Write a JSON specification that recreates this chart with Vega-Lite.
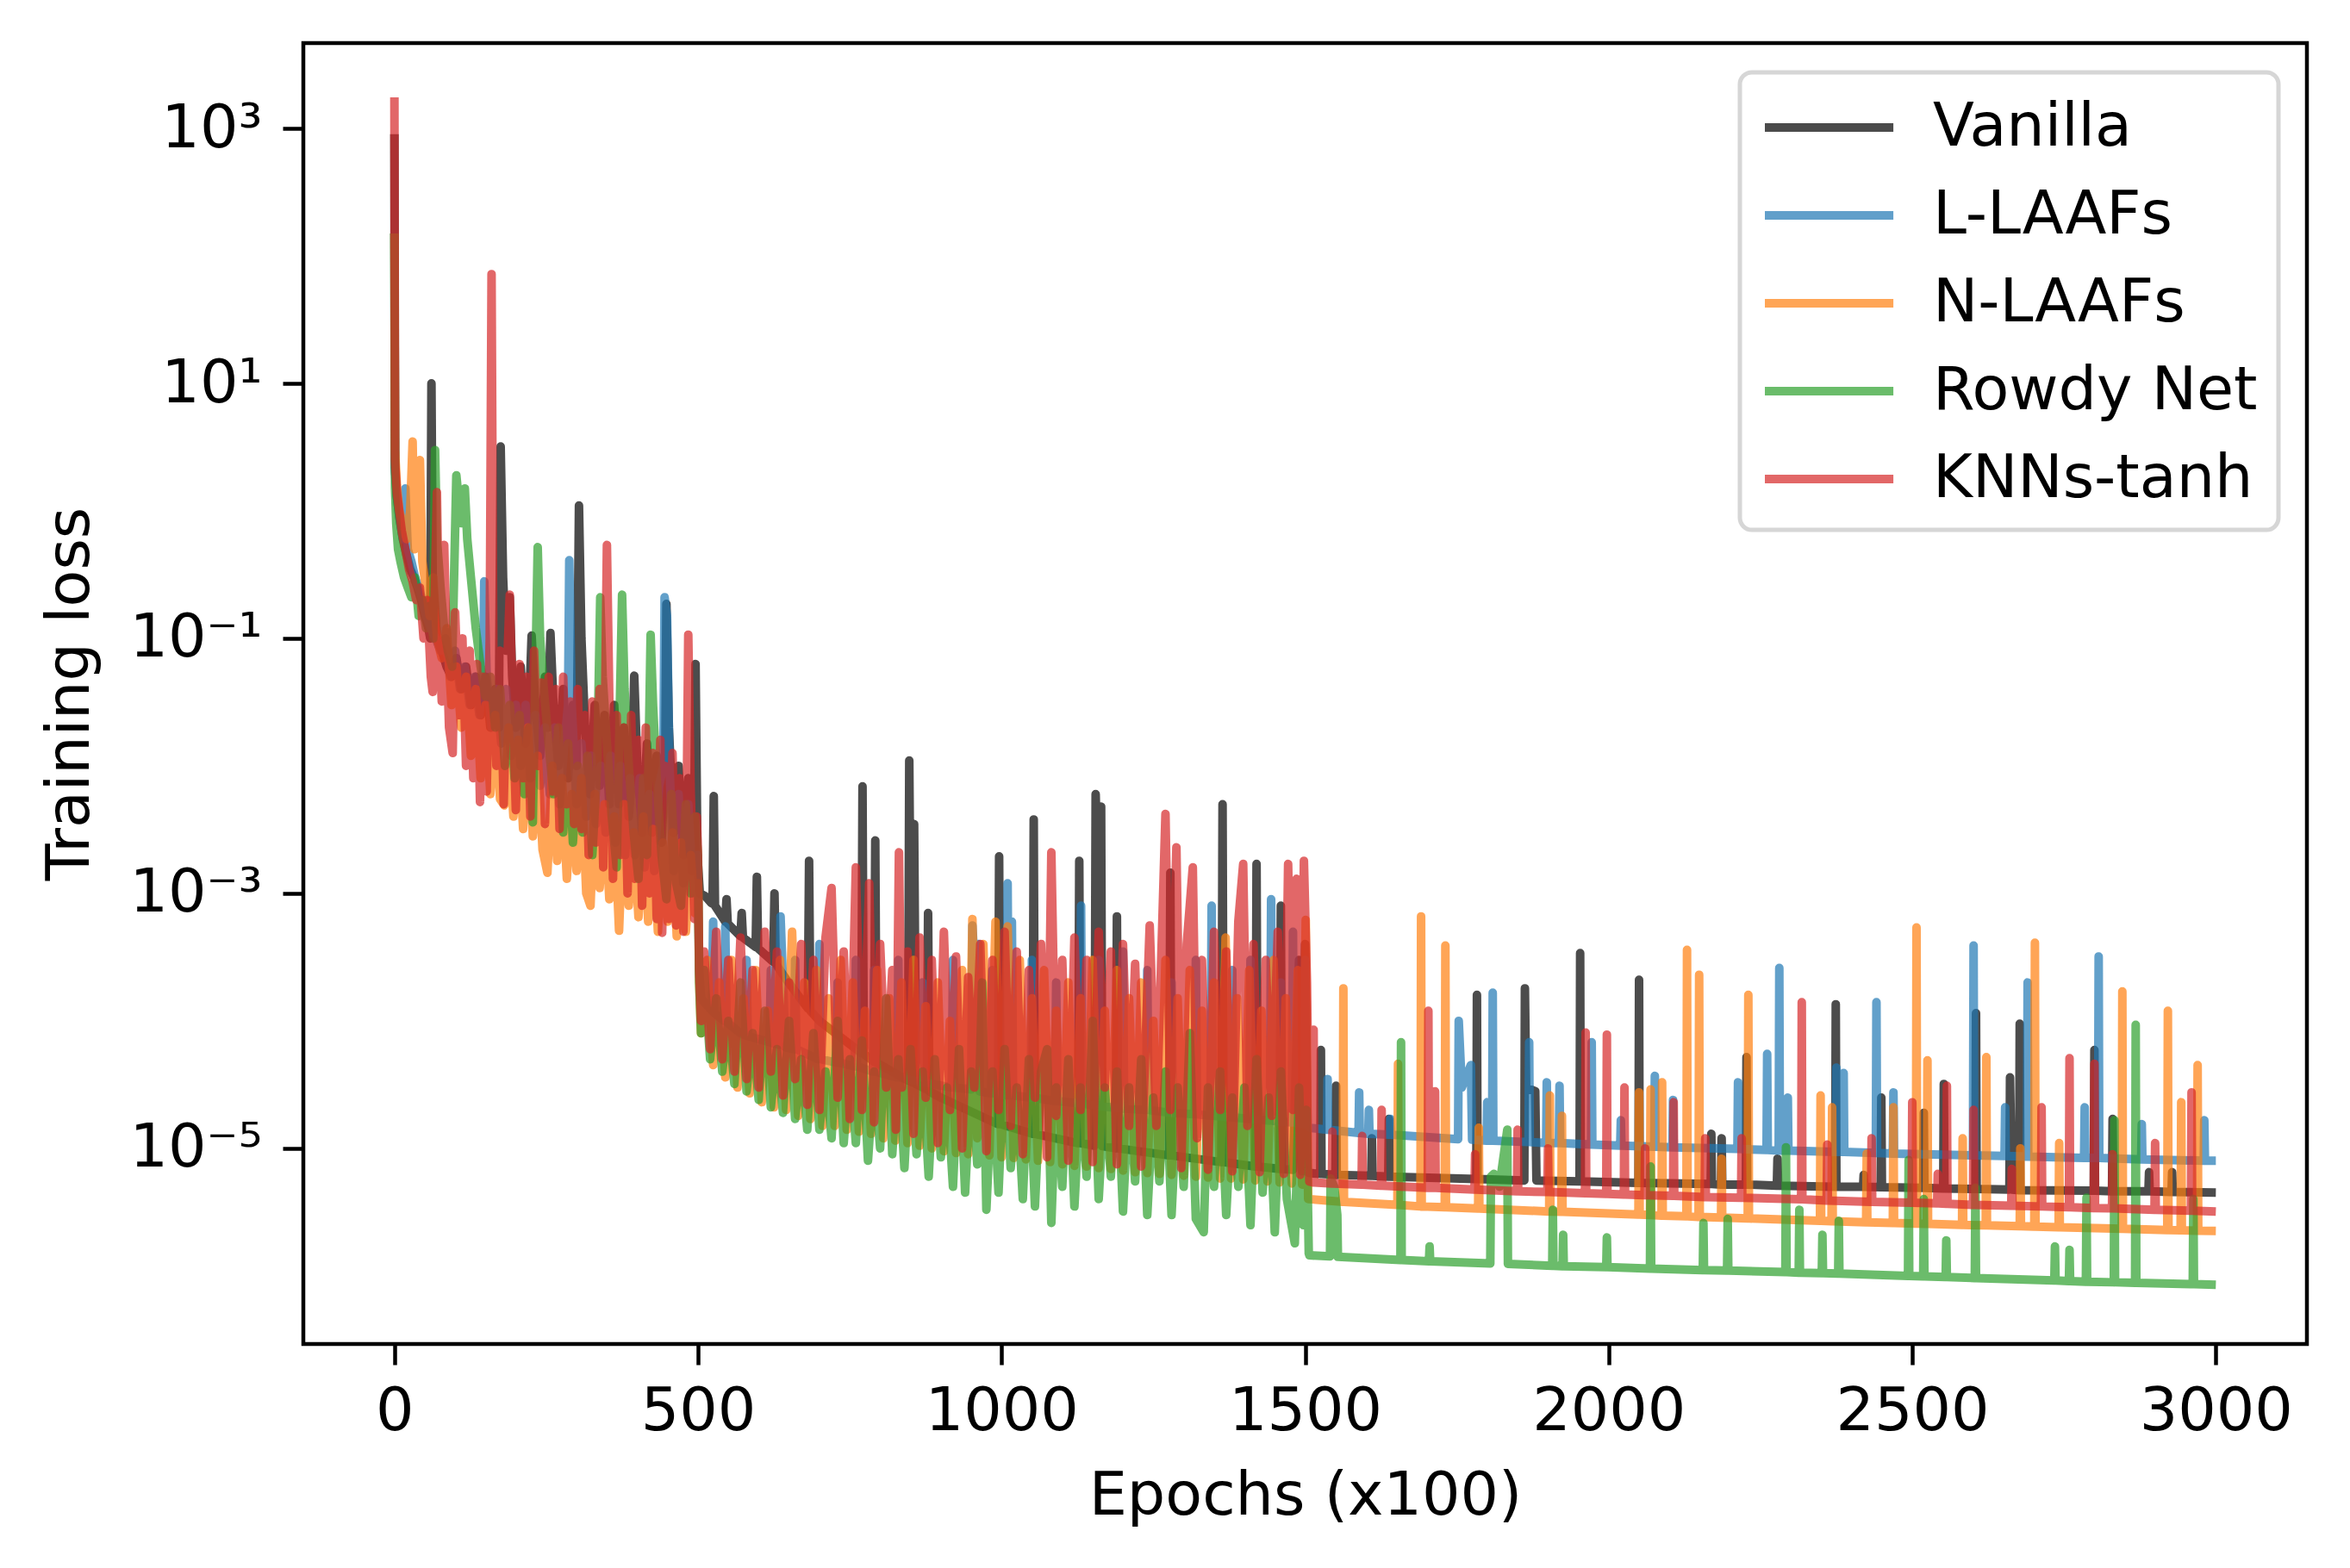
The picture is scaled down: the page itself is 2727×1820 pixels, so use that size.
{
"$schema":"https://vega.github.io/schema/vega-lite/v6.json",
"width":2325,"height":1510,
"autosize":"none",
"padding":{"left":352,"top":50,"right":50,"bottom":260},
"background":"white",
"config":{"view":{"stroke":"black","strokeWidth":4.5},"font":"DejaVu Sans","legend":{"strokeWidth":5,"strokeColor":"#d6d6d6","cornerRadius":14,"fillColor":"white","padding":24}},
"datasets":{
"V":[{"x":0,"y":900},{"x":1,"y":2.2},{"x":4,"y":1.3},{"x":8,"y":0.9},{"x":14,"y":0.6},{"x":20,"y":0.45},{"x":26,"y":0.35},{"x":32,"y":0.3},{"x":38,"y":0.25},{"x":44,"y":0.2},{"x":50,"y":0.15},{"x":56,"y":0.12},{"x":59,"y":0.1},{"x":61,"y":10},{"x":63,"y":0.3},{"x":70,"y":0.1},{"x":78,"y":0.08},{"x":86,"y":0.06},{"x":94,"y":0.05},{"x":102,"y":0.07},{"x":110,"y":0.04},{"x":118,"y":0.06},{"x":126,"y":0.03},{"x":134,"y":0.05},{"x":142,"y":0.025},{"x":150,"y":0.05},{"x":158,"y":0.02},{"x":166,"y":0.04},{"x":172,"y":0.02},{"x":175,"y":3.2},{"x":179,"y":0.3},{"x":184,"y":0.08},{"x":190,"y":0.21},{"x":194,"y":0.05},{"x":200,"y":0.02},{"x":208,"y":0.06},{"x":216,"y":0.015},{"x":222,"y":0.03},{"x":226,"y":0.105},{"x":232,"y":0.03},{"x":240,"y":0.012},{"x":248,"y":0.05},{"x":253,"y":0.02},{"x":257,"y":0.11},{"x":262,"y":0.03},{"x":270,"y":0.01},{"x":278,"y":0.04},{"x":286,"y":0.008},{"x":294,"y":0.03},{"x":300,"y":0.01},{"x":304,"y":1.1},{"x":308,"y":0.1},{"x":314,"y":0.02},{"x":322,"y":0.006},{"x":330,"y":0.03},{"x":338,"y":0.007},{"x":346,"y":0.025},{"x":354,"y":0.005},{"x":362,"y":0.03},{"x":370,"y":0.005},{"x":378,"y":0.02},{"x":386,"y":0.004},{"x":392,"y":0.01},{"x":395,"y":0.051},{"x":400,"y":0.01},{"x":408,"y":0.003},{"x":416,"y":0.015},{"x":424,"y":0.003},{"x":432,"y":0.012},{"x":440,"y":0.0025},{"x":446,"y":0.01},{"x":448,"y":0.186},{"x":452,"y":0.02},{"x":460,"y":0.003},{"x":468,"y":0.01},{"x":476,"y":0.002},{"x":484,"y":0.008},{"x":490,"y":0.0015},{"x":494,"y":0.005},{"x":496,"y":0.063},{"x":499,"y":0.002},
{"x":503,"y":1e-3},{"x":512,"y":9.5e-4},{"x":522,"y":8.4e-4},{"x":524,"y":8.3e-4},{"x":526,"y":5.8e-3},{"x":528,"y":8e-4},{"x":545,"y":6e-4},{"x":547,"y":9e-4},{"x":549,"y":5.8e-4},{"x":570,"y":4.6e-4},{"x":572,"y":7e-4},{"x":574,"y":4.5e-4},{"x":595,"y":3.8e-4},{"x":597,"y":1.35e-3},{"x":599,"y":3.7e-4},{"x":624,"y":2.9e-4},{"x":626,"y":1e-3},{"x":628,"y":2.8e-4},{"x":649,"y":2e-4},{"x":681,"y":1.25e-4},{"x":683,"y":1.8e-3},{"x":685,"y":1.2e-4},{"x":700,"y":1e-4},{"x":769,"y":5.6e-5},{"x":771,"y":6.9e-3},{"x":773,"y":5.5e-5},{"x":790,"y":4.8e-5},{"x":792,"y":2.6e-3},{"x":794,"y":4.7e-5},{"x":846,"y":3.4e-5},{"x":848,"y":1.1e-2},{"x":852,"y":3.3e-5},{"x":856,"y":3.5e-3},{"x":859,"y":3.2e-5},{"x":877,"y":2.9e-5},{"x":879,"y":7e-4},{"x":881,"y":2.8e-5},{"x":900,"y":2.5e-5},{"x":994,"y":1.55e-5},{"x":996,"y":1.95e-3},{"x":998,"y":1.55e-5},{"x":1051,"y":1.3e-5},{"x":1053,"y":3.8e-3},{"x":1055,"y":1.3e-5},{"x":1126,"y":1.1e-5},{"x":1128,"y":1.8e-3},{"x":1130,"y":1.1e-5},{"x":1153,"y":1.05e-5},{"x":1155,"y":6e-3},{"x":1159,"y":1e-3},{"x":1164,"y":4.8e-3},{"x":1166,"y":1.04e-5},{"x":1188,"y":1e-5},{"x":1190,"y":6.6e-4},{"x":1192,"y":1e-5},{"x":1276,"y":8.8e-6},{"x":1278,"y":1.45e-3},{"x":1280,"y":8.8e-6},{"x":1362,"y":7.8e-6},{"x":1364,"y":5e-3},{"x":1366,"y":7.8e-6},{"x":1418,"y":7.2e-6},{"x":1420,"y":1.7e-3},{"x":1422,"y":7.2e-6},{"x":1458,"y":6.9e-6},{"x":1460,"y":8e-4},{"x":1462,"y":6.9e-6},{"x":1480,"y":6.8e-6},{"x":1490,"y":3e-4},{"x":1495,"y":6.6e-6},{"x":1500,"y":4e-4},{"x":1504,"y":6.5e-6},
{"x":1507,"y":6.4e-6},{"x":1525,"y":6.3e-6},{"x":1526,"y":5.9e-5},{"x":1527,"y":6.3e-6},{"x":1550,"y":6.2e-6},{"x":1551,"y":3.1e-5},{"x":1552,"y":6.2e-6},{"x":1609,"y":6.1e-6},{"x":1610,"y":1.2e-5},{"x":1611,"y":6.1e-6},{"x":1637,"y":6e-6},{"x":1638,"y":1.7e-5},{"x":1639,"y":6e-6},{"x":1782,"y":5.75e-6},{"x":1783,"y":1.6e-4},{"x":1784,"y":5.75e-6},{"x":1861,"y":5.6e-6},{"x":1862,"y":1.8e-4},{"x":1864,"y":3e-5},{"x":1879,"y":2.8e-5},{"x":1881,"y":5.6e-6},{"x":1952,"y":5.5e-6},{"x":1953,"y":3.4e-4},{"x":1954,"y":5.5e-6},{"x":2049,"y":5.35e-6},{"x":2050,"y":2.1e-4},{"x":2051,"y":5.35e-6},{"x":2168,"y":5.25e-6},{"x":2169,"y":1.3e-5},{"x":2170,"y":5.25e-6},{"x":2185,"y":5.2e-6},{"x":2186,"y":1.2e-5},{"x":2187,"y":5.2e-6},{"x":2226,"y":5.2e-6},{"x":2227,"y":5.2e-5},{"x":2228,"y":5.2e-6},{"x":2277,"y":5.1e-6},{"x":2278,"y":8.3e-6},{"x":2279,"y":5.1e-6},{"x":2373,"y":5e-6},{"x":2374,"y":1.35e-4},{"x":2375,"y":5e-6},{"x":2419,"y":5e-6},{"x":2420,"y":6.2e-6},{"x":2421,"y":5e-6},{"x":2448,"y":4.95e-6},{"x":2449,"y":2.5e-5},{"x":2450,"y":4.95e-6},{"x":2518,"y":4.9e-6},{"x":2519,"y":1.9e-5},{"x":2520,"y":4.9e-6},{"x":2551,"y":4.85e-6},{"x":2552,"y":3.2e-5},{"x":2553,"y":4.85e-6},{"x":2604,"y":4.8e-6},{"x":2605,"y":1.15e-4},{"x":2606,"y":4.8e-6},{"x":2660,"y":4.75e-6},{"x":2661,"y":3.6e-5},{"x":2664,"y":4.75e-6},{"x":2676,"y":4.7e-6},{"x":2677,"y":9.5e-5},{"x":2678,"y":4.7e-6},{"x":2799,"y":4.65e-6},{"x":2800,"y":5.9e-5},{"x":2801,"y":4.65e-6},{"x":2829,"y":4.6e-6},{"x":2830,"y":1.7e-5},{"x":2831,"y":4.6e-6},{"x":2889,"y":4.6e-6},{"x":2890,"y":6.5e-6},{"x":2891,"y":4.6e-6},{"x":2927,"y":4.55e-6},{"x":2928,"y":6.5e-6},{"x":2929,"y":4.55e-6},{"x":3000,"y":4.5e-6}],
"L":[{"x":0,"y":150},{"x":1,"y":2.0},{"x":4,"y":1.3},{"x":8,"y":0.9},{"x":14,"y":0.6},{"x":18,"y":1.5},{"x":22,"y":0.5},{"x":28,"y":0.4},{"x":34,"y":0.3},{"x":40,"y":0.25},{"x":46,"y":0.2},{"x":52,"y":0.15},{"x":60,"y":0.12},{"x":68,"y":0.1},{"x":76,"y":0.08},{"x":84,"y":0.1},{"x":92,"y":0.05},{"x":100,"y":0.08},{"x":108,"y":0.04},{"x":116,"y":0.06},{"x":124,"y":0.03},{"x":132,"y":0.05},{"x":140,"y":0.025},{"x":146,"y":0.05},{"x":148,"y":0.28},{"x":152,"y":0.05},{"x":160,"y":0.02},{"x":168,"y":0.04},{"x":176,"y":0.015},{"x":184,"y":0.04},{"x":192,"y":0.012},{"x":200,"y":0.03},{"x":208,"y":0.01},{"x":216,"y":0.03},{"x":224,"y":0.008},{"x":232,"y":0.025},{"x":240,"y":0.007},{"x":248,"y":0.02},{"x":256,"y":0.006},{"x":264,"y":0.02},{"x":272,"y":0.005},{"x":280,"y":0.015},{"x":286,"y":0.03},{"x":288,"y":0.41},{"x":292,"y":0.03},{"x":300,"y":0.005},{"x":308,"y":0.015},{"x":316,"y":0.004},{"x":324,"y":0.012},{"x":332,"y":0.0035},{"x":340,"y":0.01},{"x":348,"y":0.003},{"x":356,"y":0.012},{"x":364,"y":0.0025},{"x":372,"y":0.01},{"x":380,"y":0.002},{"x":388,"y":0.008},{"x":396,"y":0.002},{"x":404,"y":0.008},{"x":412,"y":0.0016},{"x":420,"y":0.006},{"x":428,"y":0.0015},{"x":436,"y":0.007},{"x":443,"y":0.01},{"x":445,"y":0.21},{"x":449,"y":0.15},{"x":453,"y":0.01},{"x":460,"y":0.0015},{"x":468,"y":0.006},{"x":476,"y":0.0012},{"x":484,"y":0.005},{"x":492,"y":0.001},{"x":499,"y":0.002},
{"x":502,"y":2.5e-4},{"x":505,"y":1.5e-4},{"x":523,"y":1.2e-4},{"x":525,"y":6e-4},{"x":527,"y":1.15e-4},{"x":543,"y":1e-4},{"x":545,"y":5.5e-4},{"x":547,"y":9.8e-5},{"x":570,"y":8e-5},{"x":578,"y":7.7e-5},{"x":580,"y":3e-4},{"x":582,"y":7.6e-5},{"x":618,"y":6.8e-5},{"x":620,"y":2.5e-4},{"x":622,"y":6.7e-5},{"x":634,"y":6.5e-5},{"x":636,"y":6.6e-4},{"x":640,"y":2e-4},{"x":644,"y":6.2e-5},{"x":658,"y":6e-5},{"x":660,"y":3e-4},{"x":662,"y":6e-5},{"x":698,"y":5e-5},{"x":700,"y":4e-4},{"x":702,"y":5e-5},{"x":728,"y":4.7e-5},{"x":730,"y":2e-4},{"x":732,"y":4.7e-5},{"x":758,"y":4.4e-5},{"x":760,"y":3e-4},{"x":762,"y":4.4e-5},{"x":788,"y":4e-5},{"x":790,"y":2.5e-4},{"x":792,"y":4e-5},{"x":828,"y":3.6e-5},{"x":830,"y":3e-4},{"x":832,"y":3.6e-5},{"x":868,"y":3.3e-5},{"x":870,"y":2e-4},{"x":872,"y":3.3e-5},{"x":918,"y":3e-5},{"x":920,"y":3e-4},{"x":922,"y":3e-5},{"x":950,"y":2.9e-5},{"x":952,"y":5.6e-4},{"x":957,"y":2e-4},{"x":962,"y":4e-4},{"x":964,"y":2.8e-5},{"x":983,"y":2.7e-5},{"x":985,"y":2.5e-4},{"x":987,"y":2.7e-5},{"x":1008,"y":2.6e-5},{"x":1010,"y":1.2e-3},{"x":1012,"y":2.6e-5},{"x":1015,"y":2.6e-5},{"x":1017,"y":6e-4},{"x":1019,"y":2.6e-5},{"x":1048,"y":2.5e-5},{"x":1050,"y":3e-4},{"x":1052,"y":2.5e-5},{"x":1088,"y":2.35e-5},{"x":1090,"y":2e-4},{"x":1092,"y":2.35e-5},{"x":1129,"y":2.25e-5},{"x":1131,"y":8e-4},{"x":1133,"y":2.25e-5},{"x":1158,"y":2.15e-5},{"x":1160,"y":3e-4},{"x":1162,"y":2.15e-5},{"x":1198,"y":2.05e-5},{"x":1200,"y":3.5e-4},{"x":1202,"y":2.05e-5},{"x":1238,"y":2e-5},{"x":1240,"y":2.5e-4},{"x":1242,"y":2e-5},{"x":1278,"y":1.9e-5},{"x":1280,"y":2e-4},{"x":1282,"y":1.9e-5},{"x":1318,"y":1.85e-5},{"x":1320,"y":3e-4},{"x":1322,"y":1.85e-5},{"x":1344,"y":1.8e-5},{"x":1346,"y":8e-4},{"x":1348,"y":1.8e-5},{"x":1378,"y":1.75e-5},{"x":1380,"y":2.5e-4},{"x":1382,"y":1.75e-5},{"x":1408,"y":1.7e-5},{"x":1410,"y":3e-4},{"x":1412,"y":1.7e-5},{"x":1442,"y":1.65e-5},{"x":1444,"y":9e-4},{"x":1446,"y":1.65e-5},{"x":1458,"y":1.62e-5},{"x":1460,"y":2e-4},{"x":1462,"y":1.62e-5},{"x":1478,"y":1.6e-5},{"x":1480,"y":5e-4},{"x":1482,"y":1.6e-5},{"x":1498,"y":1.55e-5},{"x":1500,"y":3e-4},{"x":1504,"y":1.5e-5},
{"x":1507,"y":1.45e-5},{"x":1536,"y":1.4e-5},{"x":1537,"y":3.5e-5},{"x":1538,"y":1.4e-5},{"x":1588,"y":1.32e-5},{"x":1589,"y":2.75e-5},{"x":1590,"y":1.32e-5},{"x":1604,"y":1.3e-5},{"x":1605,"y":2e-5},{"x":1606,"y":1.3e-5},{"x":1639,"y":1.28e-5},{"x":1640,"y":1.7e-5},{"x":1641,"y":1.28e-5},{"x":1752,"y":1.18e-5},{"x":1753,"y":1e-4},{"x":1758,"y":3e-5},{"x":1773,"y":4.5e-5},{"x":1775,"y":1.17e-5},{"x":1799,"y":1.15e-5},{"x":1800,"y":2.3e-5},{"x":1801,"y":1.15e-5},{"x":1808,"y":1.15e-5},{"x":1809,"y":1.66e-4},{"x":1810,"y":1.15e-5},{"x":1868,"y":1.12e-5},{"x":1869,"y":6.8e-5},{"x":1870,"y":1.12e-5},{"x":1897,"y":1.1e-5},{"x":1898,"y":3.3e-5},{"x":1899,"y":1.1e-5},{"x":1918,"y":1.1e-5},{"x":1919,"y":3.1e-5},{"x":1920,"y":1.1e-5},{"x":1971,"y":1.07e-5},{"x":1972,"y":6.8e-5},{"x":1973,"y":1.07e-5},{"x":2019,"y":1.05e-5},{"x":2020,"y":1.66e-5},{"x":2021,"y":1.05e-5},{"x":2075,"y":1.03e-5},{"x":2076,"y":3.7e-5},{"x":2077,"y":1.03e-5},{"x":2105,"y":1.02e-5},{"x":2106,"y":2.4e-5},{"x":2107,"y":1.02e-5},{"x":2212,"y":9.9e-6},{"x":2213,"y":3.3e-5},{"x":2214,"y":9.9e-6},{"x":2260,"y":9.7e-6},{"x":2261,"y":5.5e-5},{"x":2262,"y":9.7e-6},{"x":2280,"y":9.6e-6},{"x":2281,"y":2.6e-4},{"x":2282,"y":9.6e-6},{"x":2294,"y":9.6e-6},{"x":2295,"y":2.5e-5},{"x":2296,"y":9.6e-6},{"x":2374,"y":9.4e-6},{"x":2375,"y":4.3e-5},{"x":2376,"y":9.4e-6},{"x":2386,"y":9.4e-6},{"x":2387,"y":3.9e-5},{"x":2388,"y":9.4e-6},{"x":2440,"y":9.2e-6},{"x":2441,"y":1.4e-4},{"x":2442,"y":9.2e-6},{"x":2468,"y":9.1e-6},{"x":2469,"y":2.75e-5},{"x":2470,"y":9.1e-6},{"x":2600,"y":8.8e-6},{"x":2601,"y":3.9e-4},{"x":2602,"y":8.8e-6},{"x":2652,"y":8.7e-6},{"x":2653,"y":2.1e-5},{"x":2654,"y":8.7e-6},{"x":2689,"y":8.6e-6},{"x":2690,"y":2e-4},{"x":2691,"y":8.6e-6},{"x":2783,"y":8.4e-6},{"x":2784,"y":2.1e-5},{"x":2785,"y":8.4e-6},{"x":2806,"y":8.4e-6},{"x":2807,"y":3.2e-4},{"x":2808,"y":8.4e-6},{"x":2877,"y":8.2e-6},{"x":2878,"y":1.55e-5},{"x":2879,"y":8.2e-6},{"x":2980,"y":8e-6},{"x":2981,"y":1.66e-5},{"x":2982,"y":8e-6},{"x":3000,"y":8e-6}],
"N":[{"x":0,"y":150},{"x":1,"y":3},{"x":4,"y":1.6},{"x":8,"y":1.0},{"x":14,"y":0.8},{"x":20,"y":0.6},{"x":26,"y":1.0},{"x":30,"y":3.5},{"x":33,"y":0.5},{"x":38,"y":0.6},{"x":42,"y":2.5},{"x":46,"y":0.4},{"x":52,"y":0.25},{"x":58,"y":0.15},{"x":64,"y":0.3},{"x":70,"y":0.1},{"x":78,"y":0.07},{"x":86,"y":0.12},{"x":94,"y":0.03},{"x":102,"y":0.06},{"x":110,"y":0.02},{"x":118,"y":0.05},{"x":126,"y":0.012},{"x":134,"y":0.04},{"x":142,"y":0.008},{"x":150,"y":0.03},{"x":158,"y":0.006},{"x":166,"y":0.025},{"x":174,"y":0.0055},{"x":181,"y":0.0049},{"x":188,"y":0.02},{"x":196,"y":0.004},{"x":204,"y":0.016},{"x":212,"y":0.0032},{"x":220,"y":0.02},{"x":228,"y":0.0028},{"x":236,"y":0.012},{"x":244,"y":0.0022},{"x":252,"y":0.00145},{"x":260,"y":0.01},{"x":268,"y":0.0018},{"x":276,"y":0.008},{"x":284,"y":0.0013},{"x":292,"y":0.006},{"x":300,"y":0.0015},{"x":308,"y":0.008},{"x":316,"y":0.001},{"x":323,"y":0.0008},{"x":330,"y":0.006},{"x":338,"y":0.0011},{"x":346,"y":0.005},{"x":354,"y":0.0009},{"x":362,"y":0.004},{"x":370,"y":0.00051},{"x":378,"y":0.005},{"x":386,"y":0.0008},{"x":394,"y":0.003},{"x":402,"y":0.00065},{"x":410,"y":0.004},{"x":418,"y":0.0006},{"x":426,"y":0.0032},{"x":434,"y":0.0005},{"x":442,"y":0.0025},{"x":450,"y":0.0006},{"x":458,"y":0.003},{"x":465,"y":0.00046},{"x":472,"y":0.0025},{"x":480,"y":0.0005},{"x":488,"y":0.002},{"x":495,"y":0.0007},{"x":500,"y":0.0012},
{"x":502,"y":2e-4},{"x":505,"y":8e-5},{"x":515,"y":3e-4},{"x":525,"y":4.5e-5},{"x":535,"y":2e-4},{"x":545,"y":3.6e-5},{"x":555,"y":3e-4},{"x":565,"y":3e-5},{"x":575,"y":1.5e-4},{"x":585,"y":2.7e-5},{"x":595,"y":2.5e-4},{"x":605,"y":2.3e-5},{"x":615,"y":1.2e-4},{"x":625,"y":2.1e-5},{"x":635,"y":3e-4},{"x":645,"y":2e-5},{"x":655,"y":5e-4},{"x":665,"y":1.8e-5},{"x":675,"y":2e-4},{"x":685,"y":1.7e-5},{"x":695,"y":2.5e-4},{"x":705,"y":1.5e-5},{"x":715,"y":1.5e-4},{"x":725,"y":1.5e-5},{"x":735,"y":3e-4},{"x":745,"y":1.4e-5},{"x":755,"y":2e-4},{"x":765,"y":1.35e-5},{"x":775,"y":1.2e-4},{"x":785,"y":1.3e-5},{"x":795,"y":2.5e-4},{"x":805,"y":1.2e-5},{"x":815,"y":1.5e-4},{"x":825,"y":1.15e-5},{"x":835,"y":2e-4},{"x":845,"y":1.1e-5},{"x":855,"y":3e-4},{"x":865,"y":1.05e-5},{"x":875,"y":1.3e-4},{"x":885,"y":1e-5},{"x":895,"y":2e-4},{"x":905,"y":9.5e-6},{"x":915,"y":1e-4},{"x":925,"y":9.2e-6},{"x":935,"y":2.5e-4},{"x":945,"y":9e-6},{"x":952,"y":6.3e-4},{"x":960,"y":1.2e-5},{"x":970,"y":4e-4},{"x":980,"y":8.8e-6},{"x":990,"y":6e-4},{"x":1000,"y":8.5e-6},{"x":1010,"y":5.5e-4},{"x":1020,"y":8.4e-6},{"x":1030,"y":3e-4},{"x":1040,"y":8.2e-6},{"x":1050,"y":1.5e-4},{"x":1060,"y":8e-6},{"x":1070,"y":2.5e-4},{"x":1080,"y":7.8e-6},{"x":1090,"y":1.2e-4},{"x":1100,"y":7.5e-6},{"x":1110,"y":2e-4},{"x":1120,"y":7.3e-6},{"x":1130,"y":1.5e-4},{"x":1140,"y":7.2e-6},{"x":1150,"y":3e-4},{"x":1160,"y":7e-6},{"x":1170,"y":1.2e-4},{"x":1180,"y":6.9e-6},{"x":1190,"y":2.5e-4},{"x":1200,"y":6.7e-6},{"x":1210,"y":1.5e-4},{"x":1220,"y":6.5e-6},{"x":1230,"y":2e-4},{"x":1240,"y":6.4e-6},{"x":1250,"y":1e-4},{"x":1260,"y":6.3e-6},{"x":1270,"y":3e-4},{"x":1280,"y":6.2e-6},{"x":1290,"y":1.5e-4},{"x":1300,"y":6.1e-6},{"x":1310,"y":2.5e-4},{"x":1320,"y":6e-6},{"x":1330,"y":1.2e-4},{"x":1340,"y":5.9e-6},{"x":1350,"y":2e-4},{"x":1360,"y":5.8e-6},{"x":1369,"y":4.5e-4},{"x":1378,"y":5.8e-6},{"x":1388,"y":1.5e-4},{"x":1398,"y":5.7e-6},{"x":1408,"y":2.5e-4},{"x":1418,"y":5.6e-6},{"x":1428,"y":1.2e-4},{"x":1438,"y":5.5e-6},{"x":1448,"y":3e-4},{"x":1458,"y":5.4e-6},{"x":1468,"y":1.5e-4},{"x":1478,"y":5.3e-6},{"x":1488,"y":2.5e-4},{"x":1495,"y":5.2e-6},{"x":1501,"y":6.2e-4},{"x":1505,"y":4e-6},
{"x":1507,"y":4e-6},{"x":1562,"y":3.8e-6},{"x":1563,"y":1.8e-4},{"x":1564,"y":3.8e-6},{"x":1652,"y":3.6e-6},{"x":1653,"y":4.6e-5},{"x":1654,"y":3.6e-6},{"x":1690,"y":3.5e-6},{"x":1691,"y":6.6e-4},{"x":1692,"y":3.5e-6},{"x":1730,"y":3.45e-6},{"x":1731,"y":3.9e-4},{"x":1732,"y":3.45e-6},{"x":1785,"y":3.37e-6},{"x":1786,"y":1.45e-5},{"x":1787,"y":3.37e-6},{"x":1902,"y":3.2e-6},{"x":1903,"y":2.6e-5},{"x":1904,"y":3.2e-6},{"x":1922,"y":3.18e-6},{"x":1923,"y":1.8e-5},{"x":1924,"y":3.18e-6},{"x":2049,"y":3.03e-6},{"x":2050,"y":2.75e-5},{"x":2051,"y":3.03e-6},{"x":2068,"y":3e-6},{"x":2069,"y":2.9e-5},{"x":2070,"y":3e-6},{"x":2087,"y":2.97e-6},{"x":2088,"y":3.3e-5},{"x":2089,"y":2.97e-6},{"x":2128,"y":2.93e-6},{"x":2129,"y":3.6e-4},{"x":2130,"y":2.93e-6},{"x":2148,"y":2.9e-6},{"x":2149,"y":2.3e-4},{"x":2150,"y":2.9e-6},{"x":2185,"y":2.86e-6},{"x":2186,"y":8.3e-6},{"x":2187,"y":2.86e-6},{"x":2229,"y":2.82e-6},{"x":2230,"y":1.6e-4},{"x":2231,"y":2.82e-6},{"x":2348,"y":2.7e-6},{"x":2349,"y":2.6e-5},{"x":2350,"y":2.7e-6},{"x":2367,"y":2.68e-6},{"x":2368,"y":2.1e-5},{"x":2369,"y":2.68e-6},{"x":2424,"y":2.63e-6},{"x":2425,"y":9.1e-6},{"x":2426,"y":2.63e-6},{"x":2468,"y":2.6e-6},{"x":2469,"y":2.1e-5},{"x":2470,"y":2.6e-6},{"x":2506,"y":2.57e-6},{"x":2507,"y":5.4e-4},{"x":2508,"y":2.57e-6},{"x":2524,"y":2.56e-6},{"x":2525,"y":4.9e-5},{"x":2526,"y":2.56e-6},{"x":2582,"y":2.51e-6},{"x":2583,"y":1.2e-5},{"x":2584,"y":2.51e-6},{"x":2621,"y":2.49e-6},{"x":2622,"y":5.2e-5},{"x":2623,"y":2.49e-6},{"x":2677,"y":2.45e-6},{"x":2678,"y":1e-5},{"x":2679,"y":2.45e-6},{"x":2701,"y":2.43e-6},{"x":2702,"y":4.1e-4},{"x":2703,"y":2.43e-6},{"x":2741,"y":2.4e-6},{"x":2742,"y":1.1e-5},{"x":2743,"y":2.4e-6},{"x":2845,"y":2.34e-6},{"x":2846,"y":1.7e-4},{"x":2847,"y":2.34e-6},{"x":2920,"y":2.29e-6},{"x":2921,"y":1.2e-4},{"x":2922,"y":2.29e-6},{"x":2942,"y":2.28e-6},{"x":2943,"y":2.3e-5},{"x":2944,"y":2.28e-6},{"x":2969,"y":2.26e-6},{"x":2970,"y":4.5e-5},{"x":2971,"y":2.26e-6},{"x":3000,"y":2.25e-6}],
"R":[{"x":0,"y":150},{"x":1,"y":1.5},{"x":3,"y":0.8},{"x":6,"y":0.5},{"x":10,"y":0.4},{"x":16,"y":0.3},{"x":22,"y":0.25},{"x":28,"y":0.21},{"x":34,"y":0.3},{"x":40,"y":0.15},{"x":46,"y":0.2},{"x":52,"y":0.12},{"x":58,"y":0.18},{"x":64,"y":0.1},{"x":67,"y":3.0},{"x":70,"y":0.6},{"x":76,"y":0.25},{"x":82,"y":0.12},{"x":88,"y":0.08},{"x":95,"y":0.06},{"x":102,"y":1.9},{"x":106,"y":1.2},{"x":110,"y":0.8},{"x":116,"y":1.5},{"x":120,"y":0.6},{"x":126,"y":0.3},{"x":134,"y":0.12},{"x":142,"y":0.06},{"x":150,"y":0.035},{"x":158,"y":0.05},{"x":166,"y":0.02},{"x":174,"y":0.04},{"x":182,"y":0.01},{"x":190,"y":0.03},{"x":198,"y":0.008},{"x":206,"y":0.025},{"x":214,"y":0.006},{"x":222,"y":0.02},{"x":228,"y":0.0036},{"x":236,"y":0.52},{"x":240,"y":0.1},{"x":246,"y":0.04},{"x":254,"y":0.015},{"x":262,"y":0.006},{"x":270,"y":0.02},{"x":278,"y":0.003},{"x":286,"y":0.015},{"x":294,"y":0.0025},{"x":302,"y":0.01},{"x":310,"y":0.003},{"x":318,"y":0.012},{"x":326,"y":0.002},{"x":334,"y":0.01},{"x":339,"y":0.21},{"x":343,"y":0.05},{"x":350,"y":0.015},{"x":358,"y":0.004},{"x":366,"y":0.0016},{"x":375,"y":0.22},{"x":379,"y":0.04},{"x":386,"y":0.01},{"x":394,"y":0.003},{"x":402,"y":0.0013},{"x":410,"y":0.008},{"x":416,"y":0.002},{"x":422,"y":0.107},{"x":426,"y":0.03},{"x":432,"y":0.008},{"x":440,"y":0.002},{"x":448,"y":0.0009},{"x":456,"y":0.006},{"x":464,"y":0.0012},{"x":472,"y":0.0008},{"x":480,"y":0.005},{"x":488,"y":0.001},{"x":495,"y":0.004},{"x":500,"y":0.002},
{"x":502,"y":2e-4},{"x":505,"y":8e-5},{"x":510,"y":2.5e-4},{"x":520,"y":5e-5},{"x":530,"y":1.5e-4},{"x":540,"y":4e-5},{"x":550,"y":1e-4},{"x":560,"y":3.2e-5},{"x":570,"y":2e-4},{"x":580,"y":2.8e-5},{"x":590,"y":8e-5},{"x":600,"y":2.4e-5},{"x":610,"y":1.2e-4},{"x":620,"y":2.1e-5},{"x":630,"y":6e-5},{"x":640,"y":1.9e-5},{"x":650,"y":1e-4},{"x":660,"y":1.7e-5},{"x":670,"y":5e-5},{"x":680,"y":1.4e-5},{"x":690,"y":8e-5},{"x":700,"y":1.4e-5},{"x":710,"y":4e-5},{"x":720,"y":1.2e-5},{"x":730,"y":1e-4},{"x":740,"y":1.1e-5},{"x":750,"y":5e-5},{"x":760,"y":1.1e-5},{"x":770,"y":7e-5},{"x":780,"y":8e-6},{"x":790,"y":4e-5},{"x":800,"y":1e-5},{"x":810,"y":1.5e-4},{"x":820,"y":9e-6},{"x":830,"y":5e-5},{"x":840,"y":7e-6},{"x":850,"y":6e-5},{"x":860,"y":9e-6},{"x":870,"y":4e-5},{"x":880,"y":6e-6},{"x":890,"y":5e-5},{"x":900,"y":8.5e-6},{"x":910,"y":3e-5},{"x":920,"y":5e-6},{"x":930,"y":6e-5},{"x":940,"y":4.5e-6},{"x":950,"y":4e-5},{"x":960,"y":7.5e-6},{"x":968,"y":2e-4},{"x":975,"y":3.3e-6},{"x":985,"y":4e-5},{"x":995,"y":4.5e-6},{"x":1005,"y":6e-5},{"x":1015,"y":7e-6},{"x":1025,"y":3e-5},{"x":1035,"y":4e-6},{"x":1045,"y":5e-5},{"x":1055,"y":3.5e-6},{"x":1065,"y":4e-5},{"x":1075,"y":6e-5},{"x":1082,"y":2.6e-6},{"x":1090,"y":3e-5},{"x":1100,"y":5e-6},{"x":1110,"y":5e-5},{"x":1120,"y":3.5e-6},{"x":1130,"y":3e-5},{"x":1140,"y":6e-6},{"x":1150,"y":1e-4},{"x":1160,"y":4e-6},{"x":1170,"y":3e-5},{"x":1180,"y":6e-6},{"x":1190,"y":4e-5},{"x":1200,"y":3.2e-6},{"x":1210,"y":3e-5},{"x":1220,"y":5.5e-6},{"x":1230,"y":5e-5},{"x":1240,"y":3e-6},{"x":1250,"y":2.5e-5},{"x":1260,"y":5.5e-6},{"x":1270,"y":4e-5},{"x":1280,"y":3e-6},{"x":1290,"y":3e-5},{"x":1300,"y":5e-6},{"x":1310,"y":8e-5},{"x":1320,"y":2.8e-6},{"x":1333,"y":2.2e-6},{"x":1340,"y":3e-5},{"x":1350,"y":5e-6},{"x":1360,"y":4e-5},{"x":1370,"y":3e-6},{"x":1380,"y":2.5e-5},{"x":1390,"y":5e-6},{"x":1400,"y":3e-5},{"x":1410,"y":2.5e-6},{"x":1420,"y":5e-5},{"x":1430,"y":4.5e-6},{"x":1440,"y":2.5e-5},{"x":1450,"y":2.2e-6},{"x":1460,"y":4e-5},{"x":1470,"y":4e-6},{"x":1483,"y":1.8e-6},{"x":1490,"y":3e-5},{"x":1497,"y":2.5e-6},{"x":1502,"y":2e-5},{"x":1506,"y":1.5e-6},
{"x":1507,"y":1.45e-6},{"x":1541,"y":1.42e-6},{"x":1542,"y":5.8e-6},{"x":1548,"y":5e-6},{"x":1553,"y":3e-6},{"x":1554,"y":1.41e-6},{"x":1657,"y":1.33e-6},{"x":1658,"y":6.8e-5},{"x":1659,"y":1.33e-6},{"x":1704,"y":1.3e-6},{"x":1705,"y":1.7e-6},{"x":1706,"y":1.3e-6},{"x":1805,"y":1.25e-6},{"x":1806,"y":6e-6},{"x":1811,"y":6.3e-6},{"x":1820,"y":5e-6},{"x":1833,"y":1.4e-5},{"x":1834,"y":1.24e-6},{"x":1907,"y":1.2e-6},{"x":1908,"y":3.3e-6},{"x":1909,"y":1.2e-6},{"x":1924,"y":1.19e-6},{"x":1925,"y":2.1e-6},{"x":1926,"y":1.19e-6},{"x":1996,"y":1.17e-6},{"x":1997,"y":2e-6},{"x":1998,"y":1.17e-6},{"x":2068,"y":1.14e-6},{"x":2069,"y":7.2e-6},{"x":2070,"y":1.14e-6},{"x":2155,"y":1.11e-6},{"x":2156,"y":2.6e-6},{"x":2157,"y":1.11e-6},{"x":2195,"y":1.1e-6},{"x":2196,"y":2.8e-6},{"x":2197,"y":1.1e-6},{"x":2291,"y":1.07e-6},{"x":2292,"y":1.02e-5},{"x":2293,"y":1.07e-6},{"x":2313,"y":1.06e-6},{"x":2314,"y":3.3e-6},{"x":2315,"y":1.06e-6},{"x":2351,"y":1.05e-6},{"x":2352,"y":2.1e-6},{"x":2353,"y":1.05e-6},{"x":2378,"y":1.04e-6},{"x":2379,"y":2.7e-6},{"x":2380,"y":1.04e-6},{"x":2493,"y":1e-6},{"x":2494,"y":8.1e-6},{"x":2495,"y":1e-6},{"x":2518,"y":9.9e-7},{"x":2519,"y":4e-6},{"x":2520,"y":9.9e-7},{"x":2555,"y":9.8e-7},{"x":2556,"y":1.9e-6},{"x":2557,"y":9.8e-7},{"x":2603,"y":9.6e-7},{"x":2604,"y":4.9e-6},{"x":2605,"y":9.6e-7},{"x":2734,"y":9.2e-7},{"x":2735,"y":1.7e-6},{"x":2736,"y":9.2e-7},{"x":2758,"y":9.1e-7},{"x":2759,"y":1.6e-6},{"x":2760,"y":9.1e-7},{"x":2786,"y":9e-7},{"x":2787,"y":4.1e-6},{"x":2788,"y":9e-7},{"x":2832,"y":8.9e-7},{"x":2833,"y":1.66e-5},{"x":2834,"y":8.9e-7},{"x":2867,"y":8.8e-7},{"x":2868,"y":9.3e-5},{"x":2869,"y":8.8e-7},{"x":2962,"y":8.6e-7},{"x":2963,"y":4e-6},{"x":2964,"y":8.6e-7},{"x":3000,"y":8.5e-7}],
"K":[{"x":0,"y":1750},{"x":1,"y":2.5},{"x":4,"y":1.4},{"x":8,"y":1.0},{"x":12,"y":0.7},{"x":18,"y":0.5},{"x":24,"y":0.35},{"x":30,"y":0.28},{"x":36,"y":0.2},{"x":42,"y":0.25},{"x":48,"y":0.1},{"x":54,"y":0.2},{"x":60,"y":0.05},{"x":63,"y":0.038},{"x":66,"y":0.18},{"x":70,"y":1.4},{"x":73,"y":0.13},{"x":78,"y":0.032},{"x":82,"y":0.54},{"x":85,"y":0.13},{"x":90,"y":0.02},{"x":96,"y":0.0126},{"x":100,"y":0.16},{"x":106,"y":0.025},{"x":112,"y":0.1},{"x":118,"y":0.01},{"x":124,"y":0.08},{"x":130,"y":0.008},{"x":136,"y":0.063},{"x":141,"y":0.0052},{"x":146,"y":0.05},{"x":152,"y":0.0063},{"x":157,"y":0.1},{"x":160,"y":72},{"x":163,"y":0.063},{"x":168,"y":0.01},{"x":174,"y":0.08},{"x":180,"y":0.005},{"x":185,"y":0.05},{"x":190,"y":0.22},{"x":194,"y":0.04},{"x":200,"y":0.0045},{"x":206,"y":0.063},{"x":212,"y":0.008},{"x":218,"y":0.05},{"x":224,"y":0.004},{"x":230,"y":0.08},{"x":236,"y":0.01},{"x":242,"y":0.045},{"x":248,"y":0.0035},{"x":254,"y":0.05},{"x":260,"y":0.0063},{"x":266,"y":0.04},{"x":272,"y":0.0032},{"x":278,"y":0.05},{"x":284,"y":0.005},{"x":290,"y":0.032},{"x":296,"y":0.0035},{"x":302,"y":0.04},{"x":308,"y":0.0032},{"x":314,"y":0.025},{"x":320,"y":0.002},{"x":326,"y":0.032},{"x":332,"y":0.0025},{"x":338,"y":0.04},{"x":344,"y":0.0016},{"x":350,"y":0.54},{"x":354,"y":0.032},{"x":360,"y":0.0013},{"x":366,"y":0.025},{"x":372,"y":0.002},{"x":378,"y":0.02},{"x":384,"y":0.001},{"x":390,"y":0.025},{"x":396,"y":0.0013},{"x":402,"y":0.016},{"x":408,"y":0.0008},{"x":414,"y":0.02},{"x":420,"y":0.001},{"x":426,"y":0.0126},{"x":432,"y":0.00063},{"x":438,"y":0.016},{"x":441,"y":0.00049},{"x":446,"y":0.01},{"x":452,"y":0.00063},{"x":458,"y":0.0126},{"x":464,"y":0.00056},{"x":470,"y":0.008},{"x":476,"y":0.0005},{"x":482,"y":0.01},{"x":484,"y":0.107},{"x":488,"y":0.0063},{"x":494,"y":0.00063},{"x":498,"y":0.004},{"x":500,"y":0.002},
{"x":502,"y":2.5e-4},{"x":505,"y":1e-4},{"x":510,"y":3.5e-4},{"x":520,"y":6e-5},{"x":530,"y":5e-4},{"x":540,"y":5e-5},{"x":550,"y":3e-4},{"x":560,"y":4e-5},{"x":570,"y":4.5e-4},{"x":580,"y":3.5e-5},{"x":590,"y":2.5e-4},{"x":600,"y":3e-5},{"x":610,"y":5e-4},{"x":620,"y":4e-5},{"x":630,"y":3.5e-4},{"x":640,"y":2.6e-5},{"x":650,"y":2e-4},{"x":660,"y":3.5e-5},{"x":670,"y":4e-4},{"x":680,"y":2.2e-5},{"x":690,"y":3e-4},{"x":700,"y":2e-5},{"x":710,"y":4.5e-4},{"x":720,"y":1.1e-3},{"x":730,"y":2.5e-5},{"x":740,"y":3.5e-4},{"x":750,"y":1.7e-5},{"x":760,"y":1.6e-3},{"x":770,"y":2e-5},{"x":782,"y":1.2e-3},{"x":790,"y":1.6e-5},{"x":800,"y":4e-4},{"x":810,"y":3e-5},{"x":820,"y":2.5e-4},{"x":826,"y":1.4e-5},{"x":831,"y":2.1e-3},{"x":836,"y":3e-5},{"x":845,"y":3.5e-4},{"x":855,"y":1.3e-5},{"x":865,"y":4.5e-4},{"x":875,"y":2.5e-5},{"x":885,"y":3e-4},{"x":895,"y":1.1e-5},{"x":905,"y":5e-4},{"x":915,"y":2e-5},{"x":925,"y":3.2e-4},{"x":935,"y":1e-5},{"x":945,"y":2.2e-4},{"x":955,"y":3e-5},{"x":965,"y":4e-4},{"x":975,"y":9.5e-6},{"x":985,"y":3e-4},{"x":995,"y":2e-5},{"x":1005,"y":5e-4},{"x":1015,"y":1.5e-5},{"x":1025,"y":3.5e-4},{"x":1035,"y":9e-6},{"x":1045,"y":2.5e-4},{"x":1055,"y":2.5e-5},{"x":1065,"y":4e-4},{"x":1075,"y":8.5e-6},{"x":1082,"y":2.1e-3},{"x":1090,"y":1.8e-5},{"x":1100,"y":3e-4},{"x":1110,"y":8e-6},{"x":1120,"y":4.5e-4},{"x":1130,"y":2e-5},{"x":1140,"y":3e-4},{"x":1150,"y":7.8e-6},{"x":1160,"y":5e-4},{"x":1170,"y":3e-5},{"x":1180,"y":3.5e-4},{"x":1190,"y":7.5e-6},{"x":1200,"y":4e-4},{"x":1210,"y":1.5e-5},{"x":1220,"y":2.8e-4},{"x":1230,"y":7.2e-6},{"x":1244,"y":5.6e-4},{"x":1255,"y":1.5e-5},{"x":1270,"y":4.2e-3},{"x":1278,"y":2e-5},{"x":1288,"y":2.3e-3},{"x":1296,"y":7e-6},{"x":1305,"y":4e-4},{"x":1315,"y":1.6e-3},{"x":1322,"y":1.2e-5},{"x":1330,"y":3e-4},{"x":1340,"y":6.8e-6},{"x":1350,"y":5e-4},{"x":1360,"y":2e-5},{"x":1370,"y":3.5e-4},{"x":1380,"y":6.6e-6},{"x":1390,"y":6e-4},{"x":1398,"y":1.7e-3},{"x":1405,"y":1.5e-5},{"x":1415,"y":4e-4},{"x":1425,"y":6.5e-6},{"x":1435,"y":3e-4},{"x":1445,"y":1.8e-5},{"x":1455,"y":5e-4},{"x":1465,"y":6.3e-6},{"x":1472,"y":1.7e-3},{"x":1480,"y":2e-5},{"x":1486,"y":1.3e-3},{"x":1492,"y":6.2e-6},{"x":1498,"y":1.8e-3},{"x":1503,"y":2e-4},
{"x":1507,"y":5.5e-6},{"x":1513,"y":5.4e-6},{"x":1514,"y":8.5e-5},{"x":1515,"y":5.4e-6},{"x":1544,"y":5.3e-6},{"x":1545,"y":1.35e-5},{"x":1546,"y":5.3e-6},{"x":1593,"y":5.2e-6},{"x":1594,"y":1.25e-5},{"x":1595,"y":5.2e-6},{"x":1625,"y":5.1e-6},{"x":1626,"y":2e-5},{"x":1627,"y":5.1e-6},{"x":1702,"y":4.9e-6},{"x":1703,"y":1.2e-4},{"x":1704,"y":4.9e-6},{"x":1713,"y":4.9e-6},{"x":1714,"y":2.8e-5},{"x":1715,"y":4.9e-6},{"x":1779,"y":4.75e-6},{"x":1780,"y":9e-6},{"x":1781,"y":4.75e-6},{"x":1849,"y":4.6e-6},{"x":1850,"y":1.4e-5},{"x":1851,"y":4.6e-6},{"x":1899,"y":4.55e-6},{"x":1900,"y":1e-5},{"x":1901,"y":4.55e-6},{"x":1961,"y":4.45e-6},{"x":1962,"y":8.1e-5},{"x":1963,"y":4.45e-6},{"x":1996,"y":4.4e-6},{"x":1997,"y":7.8e-5},{"x":1998,"y":4.4e-6},{"x":2025,"y":4.35e-6},{"x":2026,"y":3e-5},{"x":2027,"y":4.35e-6},{"x":2059,"y":4.3e-6},{"x":2060,"y":1e-5},{"x":2061,"y":4.3e-6},{"x":2106,"y":4.25e-6},{"x":2107,"y":2.3e-5},{"x":2108,"y":4.25e-6},{"x":2158,"y":4.15e-6},{"x":2159,"y":1.2e-5},{"x":2160,"y":4.15e-6},{"x":2218,"y":4.1e-6},{"x":2219,"y":1.2e-5},{"x":2220,"y":4.1e-6},{"x":2317,"y":3.98e-6},{"x":2318,"y":1.4e-4},{"x":2319,"y":3.98e-6},{"x":2359,"y":3.9e-6},{"x":2360,"y":1.07e-5},{"x":2361,"y":3.9e-6},{"x":2432,"y":3.8e-6},{"x":2433,"y":1.2e-5},{"x":2434,"y":3.8e-6},{"x":2499,"y":3.75e-6},{"x":2500,"y":2.3e-5},{"x":2501,"y":3.75e-6},{"x":2541,"y":3.7e-6},{"x":2542,"y":6.3e-6},{"x":2543,"y":3.7e-6},{"x":2556,"y":3.68e-6},{"x":2557,"y":3.1e-5},{"x":2558,"y":3.68e-6},{"x":2600,"y":3.6e-6},{"x":2601,"y":2e-5},{"x":2602,"y":3.6e-6},{"x":2663,"y":3.55e-6},{"x":2664,"y":6.9e-6},{"x":2665,"y":3.55e-6},{"x":2712,"y":3.5e-6},{"x":2713,"y":2.1e-5},{"x":2714,"y":3.5e-6},{"x":2758,"y":3.45e-6},{"x":2759,"y":5.1e-5},{"x":2760,"y":3.45e-6},{"x":2799,"y":3.4e-6},{"x":2800,"y":4.6e-5},{"x":2801,"y":3.4e-6},{"x":2829,"y":3.38e-6},{"x":2830,"y":9e-6},{"x":2831,"y":3.38e-6},{"x":2899,"y":3.3e-6},{"x":2900,"y":1.1e-5},{"x":2901,"y":3.3e-6},{"x":2959,"y":3.25e-6},{"x":2960,"y":2.75e-5},{"x":2961,"y":3.25e-6},{"x":3000,"y":3.2e-6}]
},
"encoding":{
"x":{"field":"x","type":"quantitative","scale":{"domain":[-150,3150],"nice":false,"zero":false},
"axis":{"values":[0,500,1000,1500,2000,2500,3000],"format":"d","grid":false,"domain":false,"tickSize":24,"tickWidth":4.5,"tickColor":"black","labelFont":"DejaVu Sans","labelFontSize":70,"labelColor":"black","labelPadding":20,"labelFlush":false,"labelOverlap":false,"title":"Epochs (x100)","titleFont":"DejaVu Sans","titleFontSize":70,"titleFontWeight":"normal","titleColor":"black","titleX":1162.5,"titleY":197,"titleBaseline":"alphabetic","titleAlign":"center"}},
"y":{"field":"y","type":"quantitative","scale":{"type":"log","domain":[2.92e-7,4670],"nice":false},
"axis":{"values":[1000,10,0.1,0.001,0.00001],"labelExpr":"datum.value > 100 ? '10³' : datum.value > 1 ? '10¹' : datum.value > 0.01 ? '10⁻¹' : datum.value > 0.0001 ? '10⁻³' : '10⁻⁵'","grid":false,"domain":false,"tickSize":24,"tickWidth":4.5,"tickColor":"black","labelFont":"DejaVu Sans","labelFontSize":70,"labelColor":"black","labelPadding":24,"labelOverlap":false,"title":"Training loss","titleFont":"DejaVu Sans","titleFontSize":70,"titleFontWeight":"normal","titleColor":"black","titleX":-250,"titleY":755,"titleAngle":270,"titleBaseline":"alphabetic","titleAlign":"center"}}
},
"layer":[
{"data":{"name":"V"},"mark":{"type":"line","strokeWidth":10,"strokeOpacity":0.7,"strokeJoin":"round","strokeCap":"butt","clip":true},
"encoding":{"color":{"datum":"Vanilla","type":"nominal","scale":{"domain":["Vanilla","L-LAAFs","N-LAAFs","Rowdy Net","KNNs-tanh"],"range":["#000000","#1f77b4","#ff7f0e","#2ca02c","#d62728"]},
"legend":{"orient":"none","legendX":1667,"legendY":34,"title":null,"symbolType":"M-1,0H3.26","symbolSize":4900,"symbolStrokeWidth":10,"symbolOpacity":0.7,"labelFont":"DejaVu Sans","labelFontSize":70,"labelColor":"black","labelOffset":120,"labelLimit":0,"rowPadding":27}}}},
{"data":{"name":"L"},"mark":{"type":"line","strokeWidth":10,"strokeOpacity":0.7,"strokeJoin":"round","strokeCap":"butt","clip":true},"encoding":{"color":{"datum":"L-LAAFs","type":"nominal"}}},
{"data":{"name":"N"},"mark":{"type":"line","strokeWidth":10,"strokeOpacity":0.7,"strokeJoin":"round","strokeCap":"butt","clip":true},"encoding":{"color":{"datum":"N-LAAFs","type":"nominal"}}},
{"data":{"name":"R"},"mark":{"type":"line","strokeWidth":10,"strokeOpacity":0.7,"strokeJoin":"round","strokeCap":"butt","clip":true},"encoding":{"color":{"datum":"Rowdy Net","type":"nominal"}}},
{"data":{"name":"K"},"mark":{"type":"line","strokeWidth":10,"strokeOpacity":0.7,"strokeJoin":"round","strokeCap":"butt","clip":true},"encoding":{"color":{"datum":"KNNs-tanh","type":"nominal"}}}
]
}
